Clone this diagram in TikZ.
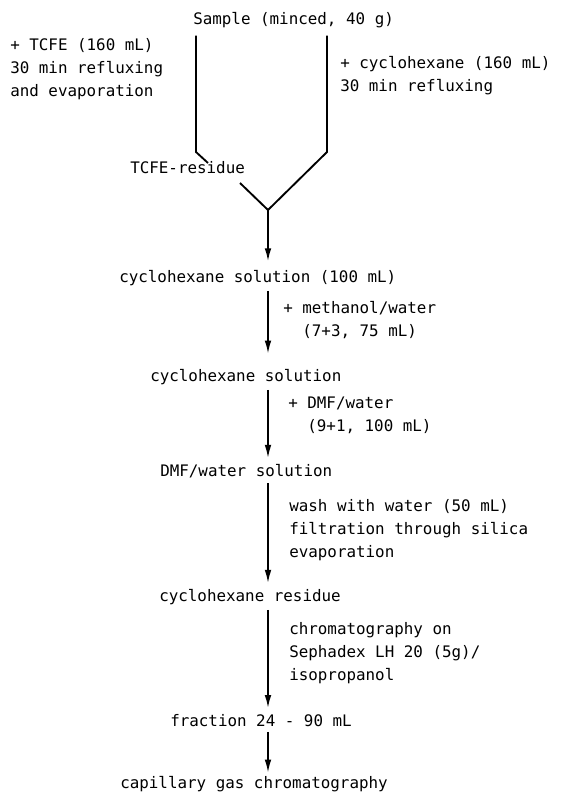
\documentclass[tikz,border=0pt]{standalone}
\usepackage{fontspec}
\setmonofont{DejaVu Sans Mono}
\usepackage{tikz}
\usetikzlibrary{arrows.meta,positioning,calc}
\tikzstyle{line} = [draw, line width=1.4pt]
\tikzstyle{flow} = [line, -{Latex[length=10pt,width=5pt]}, shorten <=4pt, shorten >=6pt]
\tikzstyle{txt} = [font=\fontsize{11.9}{16.9}\selectfont\ttfamily, inner sep=0pt, anchor=base west]
\tikzstyle{note} = [txt, align=left]
\tikzset{>=latex}

\begin{document}
\begin{tikzpicture}[x=0.75pt,y=-0.75pt]
    \useasboundingbox (0,0) rectangle (574,796);
    % stages
    \node [txt] (sample) at (193,24) {Sample (minced, 40 g)};
    \node [txt] (residue) at (130,173) {TCFE-residue};
    \node [txt] (sol1) at (119,282) {cyclohexane solution (100 mL)};
    \node [txt] (sol2) at (150,381) {cyclohexane solution};
    \node [txt] (dmf) at (160,476) {DMF/water solution};
    \node [txt] (res) at (159,601) {cyclohexane residue};
    \node [txt] (frac) at (170,726) {fraction 24 - 90 mL};
    \node [txt] (cgc) at (120,788) {capillary gas chromatography};
    % conditions (base = last line)
    \node [note] (tcfe) at (10,96) {+ TCFE (160 mL)\\30 min refluxing\\and evaporation};
    \node [note] (cyhex) at (340,91) {+ cyclohexane (160 mL)\\30 min refluxing};
    \node [note] (meoh) at (283,336) {+ methanol/water\\\hphantom{+ }(7+3, 75 mL)};
    \node [note] (dmfw) at (288,431) {+ DMF/water\\\hphantom{+ }(9+1, 100 mL)};
    \node [note] (wash) at (289,557) {wash with water (50 mL)\\filtration through silica\\evaporation};
    \node [note] (sephadex) at (289,680) {chromatography on\\Sephadex LH 20 (5g)/\\isopropanol};
    % extraction branches
    \coordinate (lb) at (196,152);
    \coordinate (rb) at (327,152);
    \coordinate (j) at (268,210);
    \draw [line, shorten <=6pt] (sample.south -| lb) -- (lb) -- ($(lb)+(12,11)$);
    \draw [line, shorten <=6pt] (sample.south -| rb) -- (rb) -- (j);
    \draw [line] ($(j)+(-28,-27)$) -- (j);
    \draw [flow, shorten <=0pt] (j) -- (sol1.north -| j);
    \draw [flow, shorten >=11pt] (sol1.south -| j) -- (sol2.north -| j);
    \draw [flow, shorten >=4pt] (sol2.south -| j) -- (dmf.north -| j);
    \draw [flow, shorten >=4pt] (dmf.south -| j) -- (res.north -| j);
    \draw [flow, shorten >=4pt] (res.south -| j) -- (frac.north -| j);
    \draw [flow, shorten >=2pt] (frac.south -| j) -- (cgc.north -| j);
  \end{tikzpicture}
\end{document}
